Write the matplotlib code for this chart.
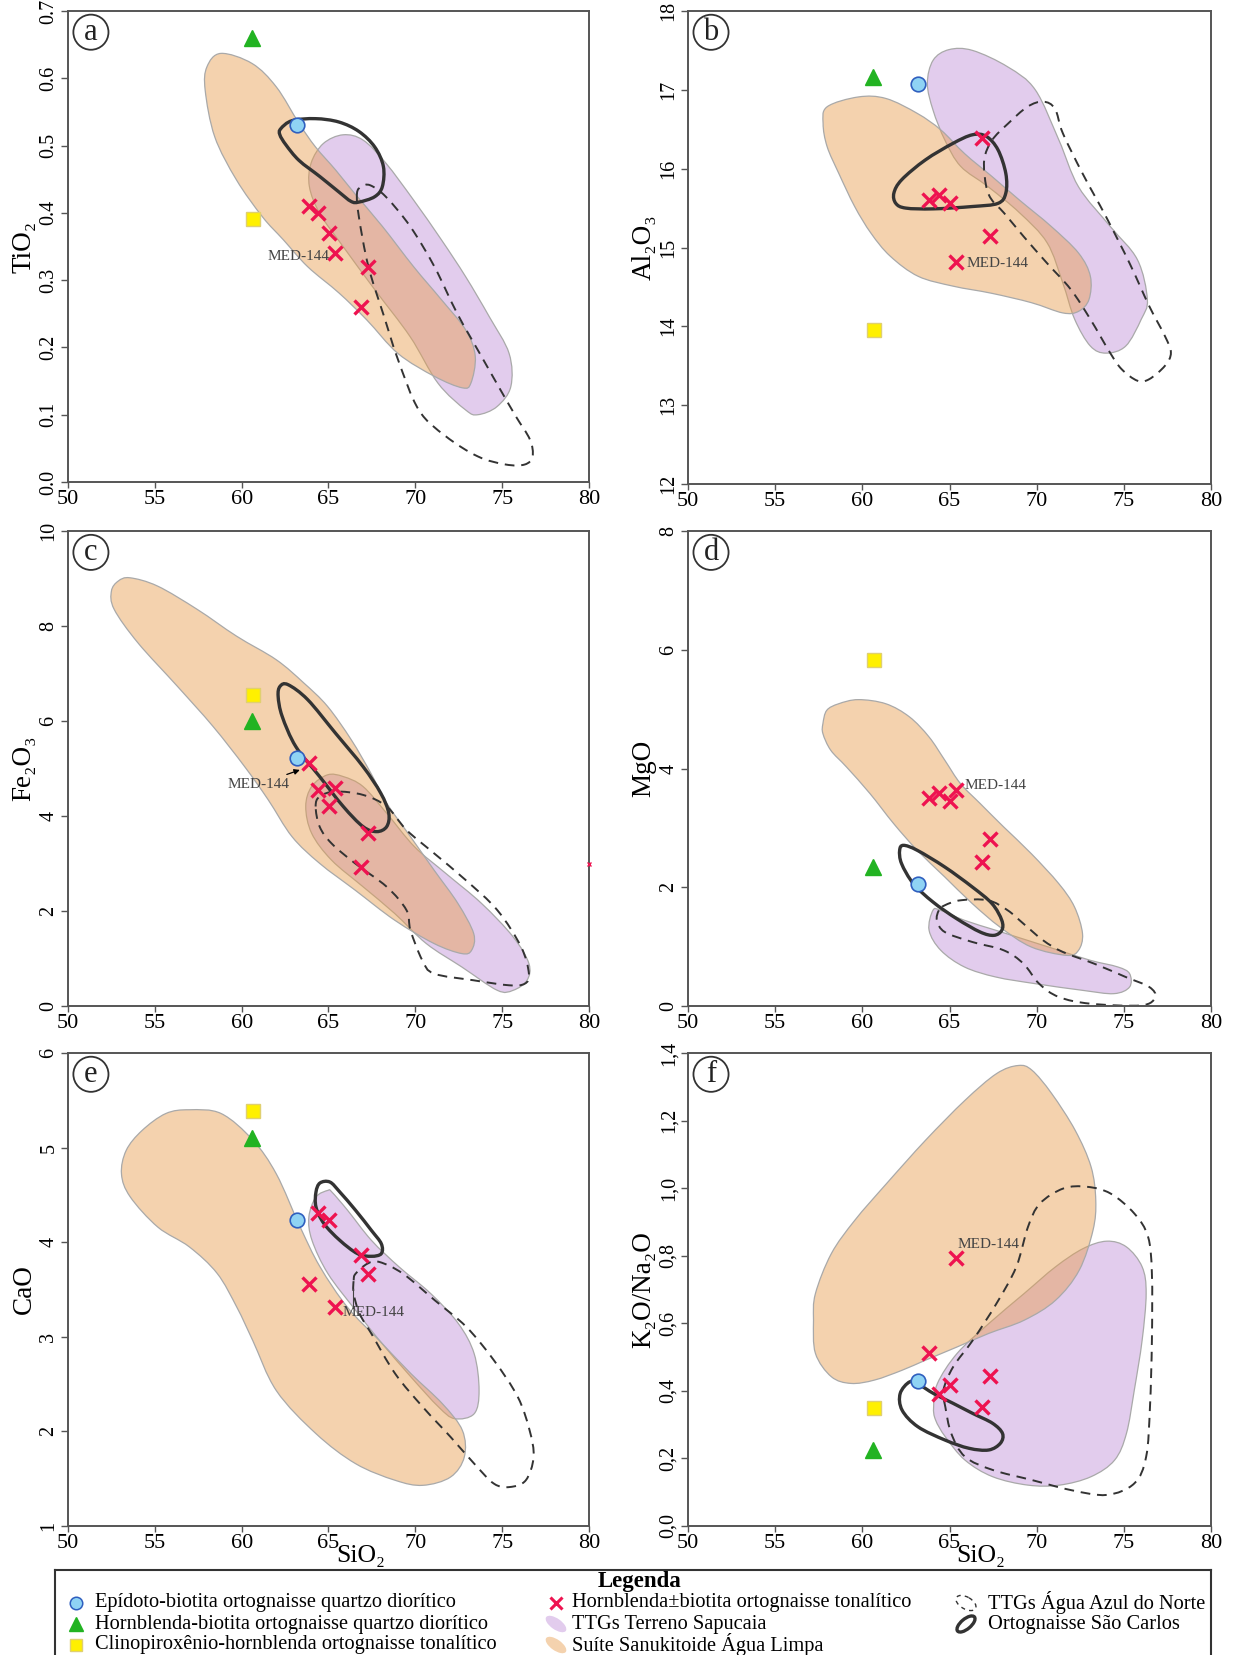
import numpy as np
import matplotlib
matplotlib.use("Agg")
import matplotlib.pyplot as plt
from matplotlib.path import Path
from matplotlib.patches import PathPatch, Ellipse

plt.rcParams['font.family'] = ['Liberation Serif', 'DejaVu Serif']
plt.rcParams['mathtext.fontset'] = 'stix'

# ---------------- data ----------------
PANELS = ['a', 'b', 'c', 'd', 'e', 'f']
YLABELS = ['TiO₂', 'Al₂O₃', 'Fe₂O₃', 'MgO', 'CaO', 'K₂O/Na₂O']
YLIMS = [(0.0, 0.7), (12, 18), (0, 10), (0, 8), (1, 6), (0.0, 1.4)]
YSTEPS = [0.1, 1, 2, 2, 1, 0.2]
XTICKS = [50, 55, 60, 65, 70, 75, 80]

# SiO2 of the samples
SIO2_EP = 63.2      # Epídoto-biotita ortognaisse quartzo diorítico
SIO2_HB = 60.6      # Hornblenda-biotita ortognaisse quartzo diorítico
SIO2_CPX = 60.65    # Clinopiroxênio-hornblenda ortognaisse tonalítico
SIO2_TON = [63.85, 64.4, 65.05, 65.4, 66.85, 67.3]   # Hornblenda±biotita (4th = MED-144)

# y values per panel (a..f)
EP_Y = [0.53, 17.07, 5.22, 2.06, 4.23, 0.43]
HB_Y = [0.66, 17.16, 5.99, 2.34, 5.10, 0.225]
CPX_Y = [0.391, 13.95, 6.54, 5.82, 5.39, 0.348]
TON_TIO2 = [0.41, 0.40, 0.37, 0.34, 0.26, 0.32]
TON_AL2O3 = [15.60, 15.67, 15.56, 14.82, 16.39, 15.14]
TON_FE2O3 = [5.11, 4.55, 4.21, 4.60, 2.93, 3.64]
TON_MGO = [3.51, 3.58, 3.45, 3.63, 2.43, 2.82]
TON_CAO = [3.56, 4.31, 4.23, 3.32, 3.86, 3.66]
TON_K2ONA2O = [0.511, 0.390, 0.417, 0.792, 0.353, 0.445]

# field outlines (SiO2, oxide)
SANUK_A = [(58.8,0.637),(60.6,0.622),(62.0,0.587),(63.3,0.533),(64.25,0.498),(65.4,0.464),(66.5,0.429),(68.1,0.380),(69.9,0.320),(71.5,0.271),(72.9,0.226),(73.45,0.187),(73.2,0.147),(72.7,0.140),(71.1,0.157),(69.0,0.191),(67.2,0.241),(65.6,0.281),(63.8,0.320),(62.4,0.360),(61.2,0.394),(59.7,0.449),(58.45,0.513),(57.9,0.582),(58.0,0.617)]
SAPUC_A = [(65.84,0.516),(64.7,0.503),(64.0,0.474),(63.9,0.439),(64.5,0.399),(65.84,0.350),(67.66,0.286),(69.7,0.216),(71.3,0.147),(72.9,0.107),(73.6,0.100),(74.7,0.112),(75.5,0.142),(75.4,0.191),(74.25,0.246),(72.9,0.305),(71.5,0.360),(69.9,0.419),(68.3,0.474),(67.0,0.508)]
SAOC_A = [(62.25,0.525),(62.9,0.537),(64.25,0.540),(65.6,0.535),(66.75,0.521),(67.66,0.498),(68.16,0.469),(68.1,0.439),(67.66,0.424),(66.75,0.416),(66.3,0.417),(65.6,0.431),(64.5,0.454),(63.3,0.478),(62.55,0.501),(62.2,0.516)]
AAN_A = [(66.64,0.429),(66.75,0.394),(67.3,0.320),(68.2,0.246),(69.0,0.182),(70.2,0.107),(71.75,0.068),(73.6,0.038),(75.2,0.026),(76.3,0.026),(76.75,0.038),(76.6,0.063),(75.8,0.097),(74.9,0.137),(73.8,0.187),(72.4,0.251),(71.1,0.320),(69.7,0.380),(68.3,0.424),(67.4,0.441),(66.9,0.439)]

SANUK_B = [(57.98,16.785),(59.78,16.91),(61.36,16.89),(63.16,16.70),(64.51,16.49),(65.87,16.19),(67.44,15.90),(69.02,15.60),(70.82,15.27),(72.4,14.93),(73.08,14.635),(73.0,14.34),(72.4,14.19),(71.5,14.17),(69.7,14.30),(67.4,14.42),(65.2,14.51),(63.2,14.635),(61.6,14.89),(60.5,15.18),(59.56,15.52),(58.65,15.94),(57.98,16.28),(57.75,16.57)]
SAPUC_B = [(64.97,17.51),(64.06,17.375),(63.73,17.08),(64.06,16.74),(64.74,16.36),(65.64,16.03),(67.22,15.77),(69.02,15.44),(70.6,15.06),(71.5,14.55),(72.18,14.09),(73.08,13.75),(73.98,13.66),(75.11,13.75),(76.0,14.09),(76.35,14.34),(75.78,14.845),(74.21,15.27),(72.4,15.77),(71.28,16.36),(69.92,17.00),(68.35,17.29),(66.32,17.50)]
SAOC_B = [(61.81,15.69),(62.26,15.86),(63.61,16.11),(65.19,16.32),(66.32,16.43),(67.11,16.41),(67.78,16.24),(68.23,15.94),(68.23,15.69),(67.78,15.56),(66.32,15.52),(64.06,15.49),(62.49,15.50),(61.92,15.56)]
AAN_B = [(67.11,15.77),(66.99,16.11),(67.44,16.36),(68.35,16.57),(69.47,16.785),(70.37,16.85),(71.05,16.76),(71.5,16.45),(72.63,15.94),(73.98,15.39),(75.33,14.80),(76.46,14.255),(77.36,13.875),(77.7,13.665),(77.36,13.50),(76.46,13.33),(75.78,13.31),(74.88,13.455),(74.21,13.665),(73.08,14.09),(71.95,14.47),(70.6,14.80),(69.25,15.14),(68.12,15.44),(67.44,15.60)]

SANUK_C = [(53.57,9.015),(55.16,8.84),(57.44,8.35),(59.71,7.785),(61.99,7.29),(63.58,6.80),(64.94,6.31),(66.31,5.605),(67.44,4.90),(68.35,4.27),(69.72,3.565),(71.08,2.86),(72.45,2.16),(73.36,1.526),(73.24,1.174),(72.67,1.104),(71.08,1.315),(68.81,1.807),(66.53,2.44),(64.49,3.003),(62.9,3.565),(61.53,4.34),(60.17,5.04),(58.35,5.886),(56.3,6.73),(54.03,7.644),(52.66,8.35),(52.5,8.734),(52.89,8.945)]
SAPUC_C = [(64.94,4.866),(64.03,4.62),(63.69,4.20),(64.03,3.636),(65.17,3.073),(66.99,2.51),(68.81,1.948),(70.63,1.315),(72.67,0.823),(74.72,0.33),(75.63,0.33),(76.43,0.54),(76.54,0.893),(75.63,1.456),(73.81,2.16),(71.76,2.79),(69.95,3.354),(68.35,4.058),(66.99,4.62),(65.85,4.83)]
SAOC_C = [(62.21,6.73),(62.67,6.765),(63.8,6.45),(65.4,5.745),(66.99,5.04),(68.01,4.48),(68.47,4.058),(68.35,3.776),(67.78,3.671),(66.99,3.776),(65.85,4.20),(64.49,4.83),(63.12,5.46),(62.33,6.10),(62.1,6.52)]
AAN_C = [(64.26,4.20),(64.49,4.41),(65.4,4.515),(66.99,4.444),(68.35,4.20),(69.49,3.706),(71.08,3.214),(72.9,2.651),(74.72,2.018),(76.09,1.245),(76.54,0.682),(76.31,0.471),(75.4,0.436),(73.36,0.541),(71.08,0.682),(70.4,0.963),(69.72,1.596),(69.49,2.018),(68.35,2.51),(66.53,3.003),(65.17,3.425),(64.49,3.776)]

SANUK_D = [(57.74,4.756),(57.96,4.98),(58.64,5.09),(59.77,5.16),(61.35,5.09),(62.7,4.87),(63.83,4.53),(64.73,4.14),(65.63,3.745),(66.76,3.41),(68.11,3.015),(69.69,2.566),(71.27,2.06),(72.17,1.668),(72.63,1.218),(72.4,0.938),(71.72,0.853),(69.69,0.994),(67.89,1.331),(66.31,1.724),(64.73,2.173),(63.15,2.622),(61.8,3.071),(60.44,3.577),(59.09,4.026),(58.19,4.307),(57.74,4.587)]
SAPUC_D = [(64.05,1.611),(63.83,1.275),(64.5,0.938),(65.86,0.657),(67.66,0.488),(69.92,0.376),(72.63,0.264),(74.43,0.208),(75.33,0.32),(75.33,0.545),(74.66,0.657),(73.08,0.769),(71.27,0.938),(69.47,1.106),(67.66,1.275),(65.86,1.443),(64.5,1.611)]
SAOC_D = [(62.36,2.706),(63.15,2.622),(64.73,2.341),(66.31,2.004),(67.44,1.724),(68.0,1.443),(68.0,1.275),(67.55,1.19),(66.76,1.246),(65.41,1.471),(64.05,1.752),(62.93,2.06),(62.25,2.398),(62.14,2.622)]
AAN_D = [(64.39,1.611),(64.28,1.443),(64.73,1.246),(66.31,1.078),(68.11,0.938),(69.24,0.713),(70.14,0.376),(71.27,0.152),(73.08,0.039),(76.01,0.011),(76.8,0.152),(76.46,0.32),(75.11,0.488),(73.3,0.713),(71.5,0.91),(70.37,1.106),(69.24,1.387),(68.34,1.611),(67.21,1.78),(65.63,1.78),(64.73,1.696)]

SANUK_E = [(56.99,5.40),(55.63,5.36),(54.26,5.18),(53.35,4.97),(53.08,4.72),(53.58,4.48),(55.17,4.16),(56.99,3.95),(58.59,3.67),(59.73,3.31),(60.64,2.96),(62.0,2.43),(64.28,1.976),(66.56,1.659),(68.84,1.483),(70.43,1.43),(72.03,1.518),(72.82,1.73),(72.71,2.01),(71.57,2.29),(69.75,2.61),(67.93,2.96),(66.1,3.31),(64.51,3.74),(63.37,4.16),(62.0,4.72),(60.64,5.08),(58.82,5.36)]
SAPUC_E = [(64.97,4.548),(64.28,4.478),(63.87,4.266),(64.05,4.02),(64.97,3.667),(66.56,3.28),(67.93,2.963),(69.75,2.575),(71.34,2.258),(72.26,2.135),(73.39,2.187),(73.67,2.434),(73.39,2.82),(72.48,3.139),(70.89,3.456),(69.07,3.738),(67.47,4.02),(66.1,4.337),(65.19,4.531)]
SAOC_E = [(64.51,4.626),(65.08,4.636),(65.65,4.531),(66.56,4.337),(67.47,4.125),(68.04,3.984),(68.04,3.879),(67.47,3.851),(66.67,3.879),(65.65,4.02),(64.74,4.196),(64.28,4.372),(64.28,4.531)]
AAN_E = [(66.45,3.597),(66.56,3.667),(67.24,3.773),(67.93,3.791),(69.29,3.667),(71.12,3.386),(72.94,3.104),(74.53,2.75),(75.9,2.364),(76.58,2.011),(76.81,1.729),(76.36,1.483),(75.44,1.412),(74.53,1.447),(73.39,1.659),(72.03,1.941),(70.43,2.258),(68.84,2.61),(67.47,3.033),(66.79,3.245),(66.45,3.456)]

SANUK_F = [(57.2,0.609),(57.31,0.688),(58.22,0.806),(59.57,0.905),(61.38,1.013),(63.63,1.142),(65.89,1.26),(67.7,1.339),(68.94,1.363),(69.73,1.349),(70.86,1.28),(72.21,1.171),(73.12,1.063),(73.39,0.964),(73.23,0.875),(72.44,0.757),(71.08,0.668),(69.28,0.609),(67.25,0.570),(65.44,0.530),(63.63,0.491),(62.28,0.461),(60.7,0.432),(59.35,0.422),(58.22,0.442),(57.31,0.511)]
SAPUC_F = [(64.09,0.353),(64.31,0.422),(65.44,0.511),(67.25,0.599),(69.28,0.688),(71.08,0.767),(72.66,0.821),(74.02,0.843),(75.15,0.826),(76.05,0.767),(76.28,0.688),(76.05,0.55),(75.6,0.402),(75.15,0.274),(74.47,0.195),(73.12,0.146),(71.31,0.121),(69.5,0.121),(67.47,0.146),(65.89,0.195),(64.76,0.264),(64.2,0.314)]
SAOC_F = [(62.73,0.427),(62.17,0.392),(62.28,0.343),(63.18,0.294),(64.76,0.254),(66.12,0.230),(67.25,0.225),(67.92,0.245),(68.04,0.274),(67.47,0.304),(66.34,0.333),(65.21,0.363),(64.09,0.392),(63.3,0.417)]
AAN_F = [(64.76,0.353),(64.65,0.402),(65.21,0.471),(66.34,0.55),(67.7,0.659),(68.83,0.767),(69.5,0.885),(70.18,0.954),(71.53,0.999),(72.89,1.004),(74.24,0.984),(75.6,0.925),(76.39,0.856),(76.61,0.747),(76.61,0.55),(76.5,0.353),(76.28,0.205),(75.6,0.126),(74.02,0.092),(71.99,0.106),(69.73,0.136),(67.47,0.166),(65.89,0.205),(65.1,0.274)]

SANUK = [SANUK_A, SANUK_B, SANUK_C, SANUK_D, SANUK_E, SANUK_F]
SAPUC = [SAPUC_A, SAPUC_B, SAPUC_C, SAPUC_D, SAPUC_E, SAPUC_F]
SAOC = [SAOC_A, SAOC_B, SAOC_C, SAOC_D, SAOC_E, SAOC_F]
AAN = [AAN_A, AAN_B, AAN_C, AAN_D, AAN_E, AAN_F]
TON = [TON_TIO2, TON_AL2O3, TON_FE2O3, TON_MGO, TON_CAO, TON_K2ONA2O]

LEG_LABELS = ['Epídoto-biotita ortognaisse quartzo diorítico',
              'Hornblenda-biotita ortognaisse quartzo diorítico',
              'Clinopiroxênio-hornblenda ortognaisse tonalítico',
              'Hornblenda±biotita ortognaisse tonalítico',
              'TTGs Terreno Sapucaia',
              'Suíte Sanukitoide Água Limpa',
              'TTGs Água Azul do Norte',
              'Ortognaisse São Carlos']

# ---------------- styles ----------------
C_ORANGE = (231/255, 157/255, 77/255)
C_PURPLE = (191/255, 142/255, 217/255)
FIELD_ALPHA = 0.45
C_EDGE = '#a9a9a9'
C_LOOP = '#333333'
C_RED = '#ee1350'


def smooth_closed_path(pts):
    P = np.asarray(pts, dtype=float)
    n = len(P)
    verts = [P[0]]
    codes = [Path.MOVETO]
    for i in range(n):
        p0, p1, p2, p3 = P[i - 1], P[i], P[(i + 1) % n], P[(i + 2) % n]
        verts += [p1 + (p2 - p0) / 6.0, p2 - (p3 - p1) / 6.0, p2]
        codes += [Path.CURVE4] * 3
    verts.append(P[0])
    codes.append(Path.CLOSEPOLY)
    return Path(verts, codes)


W, H = 1235, 1655
fig = plt.figure(figsize=(W / 100, H / 100), dpi=100)

boxes = [(68, 11, 589, 482), (688, 11, 1211, 484),
         (68, 531, 589, 1006), (688, 531, 1211, 1006),
         (68, 1053, 589, 1526), (688, 1053, 1211, 1526)]

axes = []
for i, (l, t, r, b) in enumerate(boxes):
    ax = fig.add_axes([l / W, 1 - b / H, (r - l) / W, (b - t) / H])
    axes.append(ax)
    ax.set_xlim(50, 80)
    y0, y1 = YLIMS[i]
    ax.set_ylim(y0, y1)
    ax.set_xticks(XTICKS)
    ax.set_xticklabels([str(v) for v in XTICKS])
    yt = np.round(np.arange(y0, y1 + YSTEPS[i] / 2, YSTEPS[i]), 3)
    ax.set_yticks(yt)
    if i == 0:
        ax.set_yticklabels([f'{v:.1f}' for v in yt])
    elif i == 5:
        ax.set_yticklabels([f'{v:.1f}'.replace('.', ',') for v in yt])
    else:
        ax.set_yticklabels([f'{v:g}' for v in yt])
    ax.tick_params(axis='x', direction='out', length=4, width=1.0,
                   color='#555555', labelsize=16, pad=2)
    ax.tick_params(axis='y', direction='out', length=5, width=1.0,
                   color='#555555', labelsize=14.5, pad=2, labelrotation=90)
    for lab in ax.get_yticklabels():
        lab.set_va('center')
    for sp in ax.spines.values():
        sp.set_color('#555555')
        sp.set_linewidth(1.4)
    ax.set_ylabel(YLABELS[i], fontsize=19.5, labelpad=2)

    # fields
    ax.add_patch(PathPatch(smooth_closed_path(SAPUC[i]), facecolor=C_PURPLE,
                           alpha=FIELD_ALPHA, edgecolor='none', zorder=1))
    ax.add_patch(PathPatch(smooth_closed_path(SAPUC[i]), facecolor='none',
                           edgecolor=C_EDGE, lw=0.9, zorder=1.1))
    ax.add_patch(PathPatch(smooth_closed_path(SANUK[i]), facecolor=C_ORANGE,
                           alpha=FIELD_ALPHA, edgecolor='none', zorder=1.2))
    ax.add_patch(PathPatch(smooth_closed_path(SANUK[i]), facecolor='none',
                           edgecolor=C_EDGE, lw=0.9, zorder=1.3))
    ax.add_patch(PathPatch(smooth_closed_path(AAN[i]), facecolor='none',
                           edgecolor=C_LOOP, lw=1.4, ls=(0, (5, 3.5)), zorder=2))
    ax.add_patch(PathPatch(smooth_closed_path(SAOC[i]), facecolor='none',
                           edgecolor=C_LOOP, lw=2.4, zorder=2.1))

    # samples
    ax.plot(SIO2_TON, TON[i], ls='none', marker='x', ms=10, mew=2.4,
            color=C_RED, zorder=4)
    ax.plot([SIO2_EP], [EP_Y[i]], ls='none', marker='o', ms=10.5,
            mfc='#8fd3f4', mec='#2f5fbf', mew=1.2, zorder=5)
    ax.plot([SIO2_HB], [HB_Y[i]], ls='none', marker='^', ms=11.5,
            mfc='#22b322', mec='#22b322', zorder=5)
    ax.plot([SIO2_CPX], [CPX_Y[i]], ls='none', marker='s', ms=10.5,
            mfc='#fff000', mec='#e0d070', mew=1.0, zorder=5)

    # panel letter
    ax.text(0.044, 0.955, PANELS[i], transform=ax.transAxes, fontsize=22,
            ha='center', va='center', color='#222222',
            bbox=dict(boxstyle='circle,pad=0.1', fc='white', ec='#333333', lw=1.3),
            zorder=6)

MED_KW = dict(fontsize=11, color='#444444', zorder=6)
axes[0].text(65.05, 0.335, 'MED-144', ha='right', va='center', **MED_KW)
axes[1].text(65.95, 14.80, 'MED-144', ha='left', va='center', **MED_KW)
axes[2].annotate('MED-144', xy=(63.35, 4.97), xytext=(59.2, 4.67),
                 ha='left', va='center',
                 arrowprops=dict(arrowstyle='-|>', color='black', lw=0.9,
                                 mutation_scale=8, shrinkA=1, shrinkB=0),
                 **MED_KW)
axes[3].text(65.85, 3.72, 'MED-144', ha='left', va='center', **MED_KW)
axes[4].text(65.8, 3.26, 'MED-144', ha='left', va='center', **MED_KW)
axes[4].plot([66.4, 66.4], [3.30, 3.51], color='#444444', lw=0.8, zorder=6)
axes[5].text(65.45, 0.834, 'MED-144', ha='left', va='center', **MED_KW)
# stray symbol on the right border of panel c
axes[2].plot([80], [3.0], ls='none', marker='x', ms=3, mew=1, color=C_RED,
             clip_on=False, zorder=6)

# ---------------- legend ----------------
lx0, ly0 = 55, 1570
lax = fig.add_axes([lx0 / W, 0, (1211 - lx0) / W, (H - ly0) / H])
lax.set_xlim(0, 1211 - lx0)
lax.set_ylim(H - ly0, 0)
lax.set_xticks([])
lax.set_yticks([])
lax.patch.set_visible(False)
for k, sp in lax.spines.items():
    sp.set_linewidth(1.5)
    sp.set_color('#333333')
lax.spines['bottom'].set_visible(False)

lax.text(640 - lx0, 12, 'Legenda', fontsize=16.5, fontweight='bold',
         ha='center', va='center')
rows = [33, 54, 75]
tfs = 14.7
c1m, c1t = 76 - lx0, 95 - lx0
c2m, c2t = 556 - lx0, 572 - lx0
c3m, c3t = 966 - lx0, 988 - lx0
lax.plot([c1m], [rows[0]], marker='o', ms=9, mfc='#8fd3f4', mec='#2f5fbf', mew=1.1)
lax.plot([c1m], [rows[1]], marker='^', ms=10, mfc='#22b322', mec='#22b322')
lax.plot([c1m], [rows[2]], marker='s', ms=9, mfc='#fff000', mec='#e0d070')
lax.plot([c2m], [rows[0]], marker='x', ms=8, mew=2.2, color=C_RED)
lax.add_patch(Ellipse((c2m, rows[1]), 24, 11, angle=35, fc=C_PURPLE,
                      alpha=FIELD_ALPHA, ec='none'))
lax.add_patch(Ellipse((c2m, rows[2]), 24, 11, angle=35, fc=C_ORANGE,
                      alpha=FIELD_ALPHA, ec='none'))
lax.add_patch(Ellipse((c3m, rows[0]), 22, 12, angle=30, fc='none',
                      ec=C_LOOP, lw=1.0, ls=(0, (3, 3))))
lax.add_patch(Ellipse((c3m, rows[1]), 22, 10, angle=-40, fc='none',
                      ec=C_LOOP, lw=2.4))
for k in range(3):
    lax.text(c1t, rows[k], LEG_LABELS[k], fontsize=tfs, ha='left', va='center')
    lax.text(c2t, rows[k], LEG_LABELS[3 + k], fontsize=tfs, ha='left', va='center')
for k in range(2):
    lax.text(c3t, rows[k], LEG_LABELS[6 + k], fontsize=tfs, ha='left', va='center')

# x axis labels (only bottom row), drawn on top of everything
fig.text(361 / W, 1 - 1556 / H, 'SiO₂', fontsize=18.5, ha='center', va='center',
         zorder=20)
fig.text(981 / W, 1 - 1556 / H, 'SiO₂', fontsize=18.5, ha='center', va='center',
         zorder=20)

fig.savefig('out.png', dpi=100)
